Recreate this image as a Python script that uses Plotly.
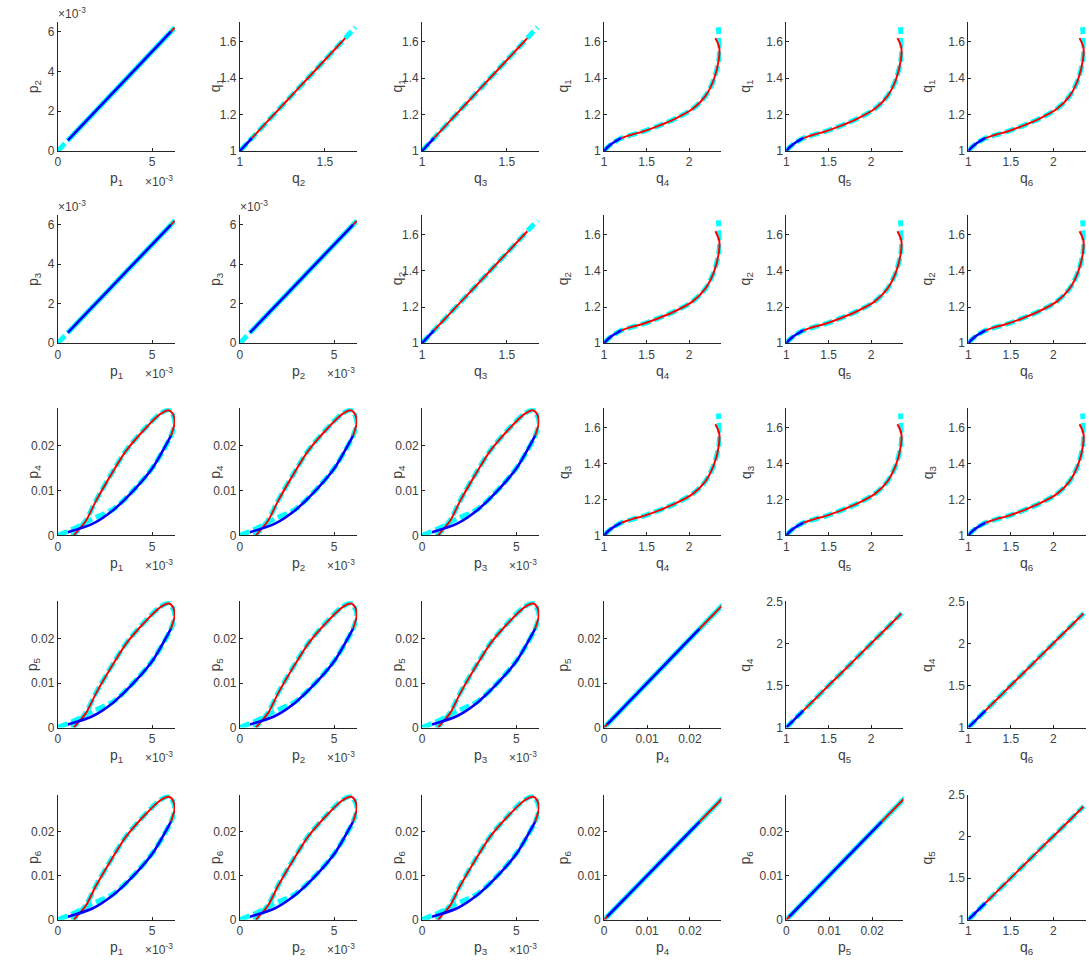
import plotly.graph_objects as go

# ---------------- data ----------------
# p1 = p2 = p3 ("p_a"), p4 = p5 = p6 ("p_b"), q1 = q2 = q3 ("q_a"), q4 = q5 = q6 ("q_b")
blue_p_a = [0.00053, 0.00186, 0.00293, 0.00417, 0.00505, 0.00600]
blue_p_b = [0.0007, 0.0026, 0.0056, 0.0107, 0.0152, 0.0222]
blue_q_a = [1.000, 1.020, 1.036, 1.049, 1.060, 1.070]
blue_q_b = [1.00, 1.04, 1.08, 1.12, 1.16, 1.20]

red_p_a = [0.00600, 0.00620, 0.00612, 0.00590, 0.00541, 0.00452, 0.00363, 0.00275, 0.00204, 0.00150, 0.00110, 0.00085]
red_p_b = [0.0222, 0.0252, 0.0270, 0.0279, 0.0270, 0.0233, 0.0189, 0.0130, 0.0078, 0.0033, 0.0012, 0.0000]
red_q_a = [1.070, 1.080, 1.092, 1.107, 1.138, 1.178, 1.230, 1.300, 1.390, 1.500, 1.570, 1.620]
red_q_b = [1.20, 1.26, 1.34, 1.46, 1.64, 1.84, 2.04, 2.19, 2.29, 2.35, 2.355, 2.31]

cyan_p_a = [0.0, 0.00090, 0.00180, 0.00293, 0.00417, 0.00505, 0.00600, 0.00621, 0.00591,
            0.00541, 0.00452, 0.00363, 0.00275, 0.00204, 0.00150, 0.00110, 0.00085, 0.00070]
cyan_p_b = [0.0, 0.0016, 0.0036, 0.0058, 0.0108, 0.0153, 0.0222, 0.0254, 0.0280,
            0.0271, 0.0234, 0.0190, 0.0131, 0.0079, 0.0034, 0.0013, 0.0002, 0.0000]
cyan_q_a = [1.000, 1.010, 1.020, 1.036, 1.049, 1.060, 1.070, 1.088, 1.107,
            1.138, 1.178, 1.230, 1.300, 1.390, 1.500, 1.570, 1.625, 1.680]
cyan_q_b = [1.00, 1.02, 1.04, 1.08, 1.12, 1.16, 1.20, 1.32, 1.46,
            1.64, 1.84, 2.04, 2.19, 2.29, 2.35, 2.36, 2.355, 2.345]

# panel grid: (x variable, y variable)
panels = [
    [("p1", "p2"), ("q2", "q1"), ("q3", "q1"), ("q4", "q1"), ("q5", "q1"), ("q6", "q1")],
    [("p1", "p3"), ("p2", "p3"), ("q3", "q2"), ("q4", "q2"), ("q5", "q2"), ("q6", "q2")],
    [("p1", "p4"), ("p2", "p4"), ("p3", "p4"), ("q4", "q3"), ("q5", "q3"), ("q6", "q3")],
    [("p1", "p5"), ("p2", "p5"), ("p3", "p5"), ("p4", "p5"), ("q5", "q4"), ("q6", "q4")],
    [("p1", "p6"), ("p2", "p6"), ("p3", "p6"), ("p4", "p6"), ("p5", "p6"), ("q6", "q5")],
]

# tick definitions per variable group
ticks_pa_x = ([0, 0.005], ["0", "5"])
ticks_pa_y = ([0, 0.002, 0.004, 0.006], ["0", "2", "4", "6"])
ticks_pb = ([0, 0.01, 0.02], ["0", "0.01", "0.02"])
ticks_qa_x = ([1, 1.5], ["1", "1.5"])
ticks_qa_y = ([1, 1.2, 1.4, 1.6], ["1", "1.2", "1.4", "1.6"])
ticks_qb_x = ([1, 1.5, 2], ["1", "1.5", "2"])
ticks_qb_y = ([1, 1.5, 2, 2.5], ["1", "1.5", "2", "2.5"])

# ---------------- helpers ----------------
def group(v):
    return {"p1": "pa", "p2": "pa", "p3": "pa", "p4": "pb", "p5": "pb", "p6": "pb",
            "q1": "qa", "q2": "qa", "q3": "qa", "q4": "qb", "q5": "qb", "q6": "qb"}[v]

series = {
    "cyan": {"pa": cyan_p_a, "pb": cyan_p_b, "qa": cyan_q_a, "qb": cyan_q_b},
    "red": {"pa": red_p_a, "pb": red_p_b, "qa": red_q_a, "qb": red_q_b},
    "blue": {"pa": blue_p_a, "pb": blue_p_b, "qa": blue_q_a, "qb": blue_q_b},
}
styles = {
    "cyan": dict(color="rgb(0,255,255)", width=5, dash="10px,4px"),
    "red": dict(color="rgb(255,0,0)", width=2),
    "blue": dict(color="rgb(0,0,255)", width=2.6),
}

ranges_x = {"pa": [0, 0.00622], "pb": [0, 0.0273], "qa": [1, 1.69], "qb": [1, 2.38]}
ranges_y = {"pa": [0, 0.0065], "pb": [0, 0.0284], "qa": [1, 1.71], "qb": [1, 2.5]}
ticks_x = {"pa": ticks_pa_x, "pb": ticks_pb, "qa": ticks_qa_x, "qb": ticks_qb_x}
ticks_y = {"pa": ticks_pa_y, "pb": ticks_pb, "qa": ticks_qa_y, "qb": ticks_qb_y}

W, H = 1089, 977
AX = "#262626"
TXT = "#404040"
FONT = "Liberation Sans, Arial, Helvetica, sans-serif"

def label(v):
    return f"{v[0]}<sub>{v[1]}</sub>"

fig = go.Figure()
layout = {}
annotations = []

k = 0
for r, row in enumerate(panels):
    for c, (xv, yv) in enumerate(row):
        k += 1
        left = 55 + 182.6 * c
        right = left + 117.5
        top = 15 + 196 * r
        bottom = 146 + 195 * r
        xa = "x" if k == 1 else f"x{k}"
        ya = "y" if k == 1 else f"y{k}"
        gx, gy = group(xv), group(yv)
        for name in ["cyan", "red", "blue"]:
            fig.add_trace(go.Scatter(
                x=series[name][gx], y=series[name][gy], mode="lines",
                line=dict(shape="spline", smoothing=0.8, **styles[name]),
                xaxis=xa, yaxis=ya, showlegend=False, hoverinfo="skip"))
        common = dict(showgrid=False, zeroline=False, showline=True, linecolor=AX,
                      linewidth=1, ticks="inside", ticklen=3, tickcolor=AX,
                      tickfont=dict(family=FONT, size=12, color=TXT), mirror=False)
        tvx, ttx = ticks_x[gx]
        tvy, tty = ticks_y[gy]
        layout["xaxis" if k == 1 else f"xaxis{k}"] = dict(
            domain=[left / W, right / W], anchor=ya, range=ranges_x[gx],
            tickvals=tvx, ticktext=ttx, **common)
        layout["yaxis" if k == 1 else f"yaxis{k}"] = dict(
            domain=[1 - bottom / H, 1 - top / H], anchor=xa, range=ranges_y[gy],
            tickvals=tvy, ticktext=tty, **common)
        # axis titles
        annotations.append(dict(x=(left + right) / 2 / W, y=1 - (bottom + 29) / H,
                                xref="paper", yref="paper", text=label(xv), showarrow=False,
                                xanchor="center", yanchor="middle",
                                font=dict(family=FONT, size=14, color=TXT)))
        yoff = 24 if c < 3 else 40
        annotations.append(dict(x=(left - yoff) / W, y=1 - (top + bottom) / 2 / H,
                                xref="paper", yref="paper", text=label(yv), showarrow=False,
                                textangle=-90, xanchor="center", yanchor="middle",
                                font=dict(family=FONT, size=14, color=TXT)))
        # exponent labels
        if gx == "pa":
            annotations.append(dict(x=right / W, y=1 - (bottom + 20) / H,
                                    xref="paper", yref="paper", text="\u00d710<sup>-3</sup>",
                                    showarrow=False, xanchor="right", yanchor="top",
                                    font=dict(family=FONT, size=12, color=TXT)))
        if gy == "pa":
            annotations.append(dict(x=(left - 2) / W, y=1 - (top + 1) / H,
                                    xref="paper", yref="paper", text="\u00d710<sup>-3</sup>",
                                    showarrow=False, xanchor="left", yanchor="bottom",
                                    font=dict(family=FONT, size=12, color=TXT)))

fig.update_layout(width=W, height=H, margin=dict(l=0, r=0, t=0, b=0),
                  paper_bgcolor="white", plot_bgcolor="white",
                  annotations=annotations, **layout)
fig.write_html("out.html")
